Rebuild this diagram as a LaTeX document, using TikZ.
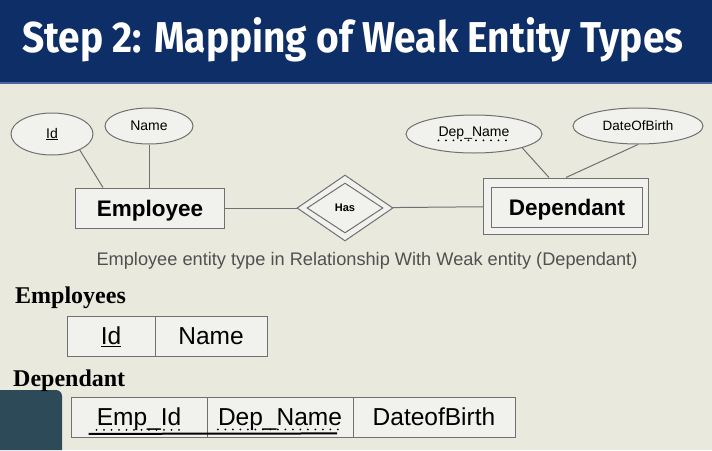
\documentclass[tikz,border=0pt]{standalone}
\usepackage{fontspec}
\setmainfont{Liberation Sans}
\newfontfamily\headserif{Liberation Serif}
\newfontfamily\titlefont{Fira Sans}
\usetikzlibrary{shapes.geometric,positioning}
\definecolor{bgcol}{RGB}{233,234,221}
\definecolor{headcol}{RGB}{14,46,103}
\definecolor{headline}{RGB}{70,105,160}
\definecolor{boxfill}{RGB}{241,241,238}
\definecolor{linegray}{RGB}{112,112,112}
\definecolor{captiongray}{RGB}{80,80,80}
\definecolor{camcol}{RGB}{44,74,88}
\tikzset{
  attr/.style={ellipse, draw=linegray, fill=boxfill, line width=1pt, inner sep=0pt},
  entity/.style={rectangle, draw=linegray, fill=boxfill, line width=1pt, inner sep=0pt,
    text depth=0pt, font=\fontsize{22.5}{26}\selectfont\bfseries},
  rel/.style={diamond, draw=linegray, fill=boxfill, line width=1pt, inner sep=0pt},
  conn/.style={draw=linegray, line width=1pt},
  cell/.style={rectangle, draw=linegray, fill=boxfill, line width=1pt, inner sep=0pt,
    outer sep=0pt, minimum height=40pt},
  celltext/.style={inner sep=0pt, text depth=0pt, font=\fontsize{24.5}{28}\selectfont},
  dotline/.style={line width=2pt, line cap=round, dash pattern=on 0pt off 7.5pt},
}
\begin{document}
\begin{tikzpicture}[x=1pt,y=-1pt]
	\useasboundingbox (0,0) rectangle (712,450);
	\fill[bgcol] (0,0) rectangle (712,450);
	\fill[headcol] (0,0) rectangle (712,82);
	\fill[headline] (0,82) rectangle (712,84);
	\node[anchor=base west, inner sep=0pt, text=white] (title) at (22,52)
		{\resizebox{661pt}{35pt}{\titlefont\bfseries Step 2: Mapping of Weak Entity Types}};

	\node[attr, minimum width=82pt, minimum height=42pt, font=\fontsize{14}{16}\selectfont] (attrid) at (52,134) {\underline{Id}};
	\node[attr, minimum width=88pt, minimum height=36pt, font=\fontsize{14}{16}\selectfont] (attrname) at (149,126) {Name};
	\node[entity, minimum width=149pt, minimum height=40pt] (emp) at (150,208) {Employee};
	\draw[conn] (attrid.-30) -- ([xshift=-47pt]emp.north);
	\draw[conn] (attrname) -- (attrname |- emp.north);

	\node[rel, minimum width=96pt, minimum height=66pt] (has) at (345,208) {};
	\node[rel, minimum width=76pt, minimum height=50pt, text depth=0pt, font=\fontsize{11}{13}\selectfont\bfseries] (hasin) at (345,208) {Has};

	\node[entity, minimum width=165pt, minimum height=56pt] (depout) at (566,206) {};
	\node[entity, minimum width=151pt, minimum height=40pt] (depin) at (567,207) {Dependant};
	\draw[conn] (emp) -- (has);
	\draw[conn] (has) -- (depout);

	\node[attr, minimum width=136pt, minimum height=38pt] (attrdepname) at (474,134) {};
	\node[inner sep=0pt, font=\fontsize{14}{16}\selectfont] (depnametxt) at (474,133) {Dep\_Name};
	\draw[dotline] ([yshift=-4pt]depnametxt.base west) -- ([yshift=-4pt]depnametxt.base east);
	\node[attr, minimum width=130pt, minimum height=36pt, font=\fontsize{13.5}{16}\selectfont] (attrdob) at (638,126) {DateOfBirth};
	\draw[conn] (attrdepname.-16) -- ([xshift=-17pt]depout.north);
	\draw[conn] (attrdob.south) -- (depout.north);

	\node[anchor=base, inner sep=0pt, text=captiongray, font=\fontsize{18.2}{21}\selectfont] (caption) at (367,265)
		{Employee entity type in Relationship\ With Weak entity (Dependant)};

	\node[anchor=base west, inner sep=0pt, font=\headserif\fontsize{24}{27}\selectfont\bfseries] (hdemp) at (15,303) {Employees};
	\node[cell, minimum width=88pt] (tidcell) at (111,336) {};
	\node[cell, minimum width=112pt, right=0pt of tidcell] (tnamecell) {};
	\node[celltext] (tid) at (tidcell) {\underline{Id}};
	\node[celltext] (tname) at (tnamecell) {Name};

	\fill[camcol] (0,450) -- (0,390) [rounded corners=6pt] -- (62,390) [sharp corners] -- (62,450) -- cycle;
	\node[anchor=base west, inner sep=0pt, font=\headserif\fontsize{24}{27}\selectfont\bfseries] (hddep) at (13,386) {Dependant};
	\node[cell, minimum width=136pt] (tempidcell) at (139,417) {};
	\node[cell, minimum width=146pt, right=0pt of tempidcell] (tdepnamecell) {};
	\node[cell, minimum width=162pt, right=0pt of tdepnamecell] (tdobcell) {};
	\node[celltext] (tempid) at (tempidcell) {Emp\_Id};
	\node[celltext] (tdepname) at (tdepnamecell) {Dep\_Name};
	\node[celltext] (tdob) at (tdobcell) {DateofBirth};
	\draw[dotline] ([yshift=-4pt]tempid.base west) -- ([yshift=-4pt]tempid.base east);
	\draw[dotline] ([yshift=-4pt]tdepname.base west) -- ([yshift=-4pt]tdepname.base east);
	\draw[line width=2pt] ([yshift=-8pt,xshift=-8pt]tempid.base west) -- ([yshift=-8pt,xshift=-5pt]tdepname.base east);
\end{tikzpicture}
\end{document}
